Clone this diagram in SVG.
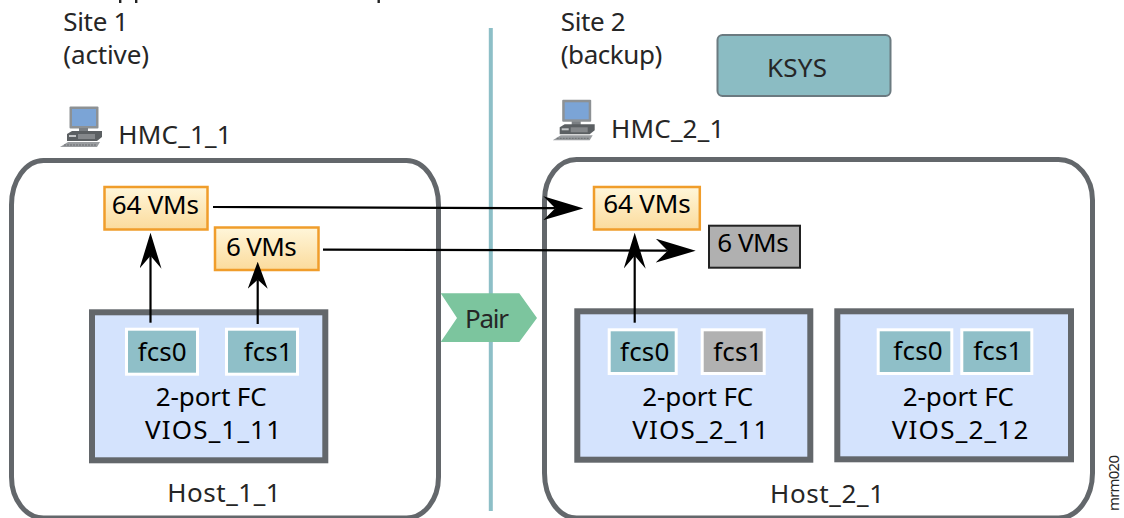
<svg xmlns="http://www.w3.org/2000/svg" xmlns:xlink="http://www.w3.org/1999/xlink" width="1124" height="518" viewBox="0 0 1124 518">
<style>
text{font-family:"Noto Sans","Open Sans","Liberation Sans",sans-serif;font-size:26px;fill:#000}
.l{fill:#262626}
.host{fill:#fff;stroke:#63676b;stroke-width:5}
.vios{fill:#d4e3fd;stroke:#63676b;stroke-width:6}
.port{fill:#8fbfc8;stroke:#fff;stroke-width:3}
.off{fill:#b1b1b1;stroke:#fff;stroke-width:3}
.vm{fill:url(#vmg);stroke:#f09d2b;stroke-width:2.5}
.c{fill:none;stroke:#000;stroke-width:2.2}
</style>
<defs>
<linearGradient id="vmg" x1="0" y1="0" x2="0" y2="1"><stop offset="0" stop-color="#fff6da"/><stop offset="1" stop-color="#fbdb9c"/></linearGradient>
<marker id="ah" markerUnits="userSpaceOnUse" viewBox="0 0 40 24" markerWidth="40" markerHeight="24" refX="12" refY="12" orient="auto"><path d="M0,0 L40,12 L0,24 L12,12 Z" fill="#000"/></marker>
<marker id="av" markerUnits="userSpaceOnUse" viewBox="0 0 36 22" markerWidth="36" markerHeight="22" refX="13" refY="11" orient="auto"><path d="M0,0 L36,11 L0,22 L13,11 Z" fill="#000"/></marker>
<marker id="as" markerUnits="userSpaceOnUse" viewBox="0 0 27 20" markerWidth="27" markerHeight="20" refX="9" refY="10" orient="auto"><path d="M0,0 L27,10 L0,20 L9,10 Z" fill="#000"/></marker>
<g id="pc">
<rect x="69.5" y="106.5" width="29" height="22" rx="1" fill="#8d9194"/>
<rect x="72" y="109" width="24" height="17" fill="#7ba4d6"/>
<rect x="79" y="128" width="9" height="4" fill="#7c8084"/>
<path d="M67,134 L72,131 L102,131 L102,137 L97,141 L67,141 Z" fill="#5b5f62"/>
<rect x="78" y="134" width="17" height="5" fill="#85888b"/>
<rect x="69" y="135" width="7" height="2" fill="#c4c6c8"/>
<path d="M60,147 L68,142 L100,142 L97,147 Z" fill="#9a9da0"/>
<path d="M64,145 L96,145" stroke="#6a6d70" stroke-width="1" stroke-dasharray="2 1" fill="none"/>
</g>
</defs>
<rect width="1124" height="518" fill="#fff"/>

<g id="cropped-title" fill="#222"><rect x="119" y="0" width="2.4" height="3"/><rect x="135" y="0" width="2.4" height="3"/><rect x="377.5" y="0" width="2.4" height="3"/></g>

<g id="divider"><rect x="488.8" y="28" width="4" height="483" fill="#8dbfc7"/></g>

<g id="host-1-1"><path class="host" d="M11.5,205 A32,44.5 0 0 1 43.5,160.5 L406.5,160.5 A32,44.5 0 0 1 438.5,205 L438.5,477 A32,41 0 0 1 406.5,518 L43.5,518 A32,41 0 0 1 11.5,477 Z"/><text class="l" x="167.3" y="501.7" textLength="113.4">Host_1_1</text></g>
<g id="host-2-1"><path class="host" d="M544.5,200 A32,40.5 0 0 1 576.5,159.5 L1058.5,159.5 A34,40.5 0 0 1 1092.5,200 L1092.5,473 A34,45 0 0 1 1058.5,518 L576.5,518 A32,45 0 0 1 544.5,473 Z"/><text class="l" x="770" y="503.3" textLength="114">Host_2_1</text></g>

<g id="site-1"><text class="l"><tspan x="63.3" y="31" textLength="65">Site 1</tspan><tspan x="63.3" y="64" textLength="85.7">(active)</tspan></text></g>
<g id="site-2"><text class="l"><tspan x="560.7" y="31" textLength="65">Site 2</tspan><tspan x="560.7" y="64" textLength="101.6">(backup)</tspan></text></g>

<g id="ksys"><rect x="717.5" y="35" width="173" height="61" rx="5" fill="#8bbcc3" stroke="#6b7a80" stroke-width="2"/><text class="l" x="767" y="77" textLength="60">KSYS</text></g>

<g id="hmc-1-1"><use xlink:href="#pc" href="#pc"/><text class="l" x="118.3" y="144.3" textLength="113.4">HMC_1_1</text></g>
<g id="hmc-2-1"><use xlink:href="#pc" href="#pc" transform="translate(492.7,-6.7)"/><text class="l" x="611" y="138.3" textLength="113.3">HMC_2_1</text></g>

<g id="pair"><path d="M440.7,293.3 L519.3,293.3 L537,318 L519.3,342 L440.7,342 L457,318 Z" fill="#7cc59e"/><text class="l" x="465" y="328" textLength="44">Pair</text></g>

<g id="vios-1-11"><rect class="vios" x="92" y="312.3" width="233.3" height="148"/><text><tspan x="155.7" y="406" textLength="111">2-port FC</tspan><tspan x="145" y="439" textLength="136">VIOS_1_11</tspan></text></g>
<g id="fcs0-1"><rect class="port" x="126.5" y="329.2" width="71" height="45"/><text x="137.7" y="360.7" textLength="49">fcs0</text></g>
<g id="fcs1-1"><rect class="port" x="226.5" y="329.2" width="71" height="45"/><text x="243.7" y="360.7" textLength="49">fcs1</text></g>

<g id="vios-2-11"><rect class="vios" x="577.3" y="311.3" width="233" height="148.4"/><text><tspan x="642.3" y="406" textLength="111">2-port FC</tspan><tspan x="632.3" y="439" textLength="136">VIOS_2_11</tspan></text></g>
<g id="fcs0-2"><rect class="port" x="609.2" y="329.8" width="67" height="43.7"/><text x="620" y="360.7" textLength="49.3">fcs0</text></g>
<g id="fcs1-2"><rect class="off" x="702.2" y="329.8" width="62" height="43.7"/><text x="713.3" y="360.7" textLength="49">fcs1</text></g>

<g id="vios-2-12"><rect class="vios" x="837.3" y="311.3" width="233.7" height="148"/><text><tspan x="902.7" y="406" textLength="111.3">2-port FC</tspan><tspan x="891.7" y="439" textLength="136.6">VIOS_2_12</tspan></text></g>
<g id="fcs0-3"><rect class="port" x="878.2" y="329.8" width="73.6" height="43.7"/><text x="893.3" y="360" textLength="49.4">fcs0</text></g>
<g id="fcs1-3"><rect class="port" x="961.8" y="329.8" width="70" height="43.7"/><text x="973.3" y="360" textLength="49">fcs1</text></g>

<g id="vms-64-1"><rect class="vm" x="104.5" y="187" width="103" height="42.5"/><text x="111.7" y="214" textLength="87.3">64 VMs</text></g>
<g id="vms-6-1"><rect class="vm" x="215" y="227.5" width="103.5" height="42.5"/><text x="226" y="256" textLength="70.7">6 VMs</text></g>
<g id="vms-64-2"><rect class="vm" x="594" y="187" width="105.8" height="42.5"/><text x="603.3" y="213.3" textLength="87.4">64 VMs</text></g>
<g id="vms-6-2"><rect x="709" y="225.7" width="91" height="42" fill="#b0b0b0" stroke="#222" stroke-width="2"/><text x="717.3" y="251.7" textLength="71.4">6 VMs</text></g>

<g id="connectors">
<line class="c" x1="213" y1="207" x2="555.3" y2="208.2" marker-end="url(#ah)"/>
<line class="c" x1="323" y1="249.6" x2="667.7" y2="250.7" marker-end="url(#ah)"/>
<line class="c" x1="150.5" y1="322.7" x2="150.5" y2="255.7" marker-end="url(#av)"/>
<line class="c" x1="257.7" y1="324" x2="257.7" y2="279.7" marker-end="url(#as)"/>
<line class="c" x1="634.7" y1="322.7" x2="634.7" y2="255.7" marker-end="url(#av)"/>
</g>

<g id="figure-id"><text class="l" transform="translate(1119,511) rotate(-90)" x="0" y="0" style="font-size:15px" textLength="56">mrm020</text></g>
</svg>
